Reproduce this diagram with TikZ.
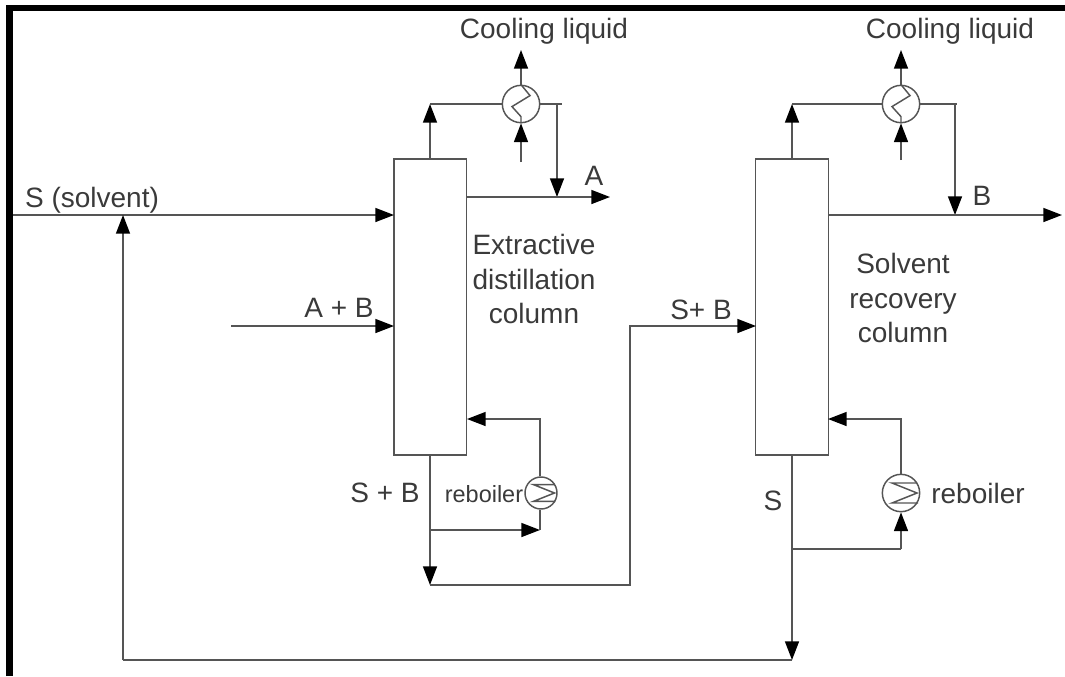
\documentclass[tikz,border=0pt]{standalone}
\usepackage{fontspec}
\setmainfont{Liberation Sans}
\usepackage{xcolor}
\usetikzlibrary{arrows.meta,positioning}
\definecolor{pipeGrey}{HTML}{555555}
\definecolor{labelGrey}{HTML}{3A3A3A}
\tikzset{
  column/.style={rectangle, draw=pipeGrey, line width=1.1pt, fill=white, minimum width=54.6pt, minimum height=222pt, inner sep=0pt},
  condenser/.style={circle, draw=pipeGrey, line width=1.1pt, fill=white, minimum size=28pt, inner sep=0pt},
  smallreboiler/.style={circle, draw=pipeGrey, line width=1.1pt, fill=white, minimum size=24pt, inner sep=0pt},
  tag/.style={text=labelGrey, align=center, inner sep=0pt, font=\fontsize{21}{26}\selectfont},
  smalltag/.style={text=labelGrey, inner sep=0pt, font=\fontsize{17.6}{21}\selectfont},
  pipe/.style={draw=pipeGrey, line width=1.1pt},
  flow/.style={pipe, -{Triangle[length=14pt,width=10.5pt,color=black]}}
}
\begin{document}
\begin{tikzpicture}[x=0.75pt,y=-0.75pt]
  \useasboundingbox (0,0) rectangle (1065,676);
  \draw[line width=5pt] (9.5,676) -- (9.5,8) -- (1065,8);

  % columns and exchangers
  \node[column] (colA) at (430.3,307) {};
  \node[column] (colB) at (792,307) {};
  \node[condenser] (condA) at (521,104) {};
  \node[condenser] (condB) at (901,104) {};
  \node[smallreboiler] (reboilA) at (541,493) {};
  \node[condenser] (reboilB) at (901,493) {};

  % labels
  \node[tag] (coolTextA) at (544,31) {Cooling liquid};
  \node[tag] (coolTextB) at (950,31) {Cooling liquid};
  \node[tag] (solventText) at (92,200) {S (solvent)};
  \node[tag] (aText) at (594,176) {A};
  \node[tag] (bText) at (982,196) {B};
  \node[tag] (colTextA) at (534,279) {Extractive\\distillation\\column};
  \node[tag] (colTextB) at (903,298) {Solvent\\recovery\\column};
  \node[tag] (feedText) at (339,308) {A + B};
  \node[tag] (sbTextB) at (701,310) {S+ B};
  \node[tag] (sbTextA) at (385,493) {S + B};
  \node[smalltag] (reboilTextA) at (484,494) {reboiler};
  \node[tag] (sText) at (773,501) {S};
  \node[tag] (reboilTextB) at (978,493) {reboiler};

  % free ends and junctions
  \coordinate (solventIn) at (13,215);
  \coordinate (solventA) at (394,215);
  \coordinate (recycleJoin) at (123,215);
  \coordinate (recycleLow) at (123,660);
  \coordinate (bottomEnd) at (792,660);
  \coordinate (feedIn) at (231,326);
  \coordinate (feedA) at (394,326);
  \coordinate (vapourA) at (430,104);
  \coordinate (vapourB) at (792,104);
  \coordinate (stubA) at (562,104);
  \coordinate (stubB) at (957,104);
  \coordinate (dropA) at (557,104);
  \coordinate (dropB) at (955,104);
  \coordinate (jointA) at (557,197);
  \coordinate (jointB) at (955,215);
  \coordinate (drawA) at (467,197);
  \coordinate (drawB) at (828,215);
  \coordinate (productA) at (610,197);
  \coordinate (productB) at (1062,215);
  \coordinate (coolOutA) at (521,50);
  \coordinate (coolOutB) at (901,50);
  \coordinate (coolInA) at (521,162);
  \coordinate (coolInB) at (901,160);
  \coordinate (bottomA) at (430,456);
  \coordinate (bottomB) at (792,456);
  \coordinate (branchA) at (430,530);
  \coordinate (branchB) at (792,549);
  \coordinate (turnA) at (540,530);
  \coordinate (turnB) at (901,549);
  \coordinate (lowA) at (430,585);
  \coordinate (riseA) at (630,585);
  \coordinate (riseB) at (630,326);
  \coordinate (feedB) at (756,326);
  \coordinate (returnA) at (467,419);
  \coordinate (returnB) at (828,419);

  % first column
  \draw[pipe] (solventIn) -- (recycleJoin);
  \draw[flow] (recycleJoin) -- (solventA);
  \draw[flow] (feedIn) -- (feedA);
  \draw[flow] (colA.north -| vapourA) -- (vapourA);
  \draw[pipe] (vapourA) -- (condA.west);
  \draw[pipe] (condA.east) -- (stubA);
  \draw[flow] (dropA) -- (jointA);
  \draw[flow] (drawA) -- (productA);
  \draw[flow] (condA.north) -- (coolOutA);
  \draw[flow] (coolInA) -- (condA.south);
  \draw[flow] (bottomA) -- (lowA);
  \draw[flow] (branchA) -- (turnA);
  \draw[pipe] (turnA) -- (reboilA.south -| turnA);
  \draw[flow] (reboilA.north -| turnA) |- (returnA);

  % second column
  \draw[flow] (lowA) -- (riseA) -- (riseB) -- (feedB);
  \draw[flow] (colB.north) -- (vapourB);
  \draw[pipe] (vapourB) -- (condB.west);
  \draw[pipe] (condB.east) -- (stubB);
  \draw[flow] (dropB) -- (jointB);
  \draw[flow] (drawB) -- (productB);
  \draw[flow] (condB.north) -- (coolOutB);
  \draw[flow] (coolInB) -- (condB.south);
  \draw[flow] (bottomB) -- (bottomEnd);
  \draw[pipe] (branchB) -- (turnB);
  \draw[flow] (turnB) -- (reboilB.south);
  \draw[flow] (reboilB.north) |- (returnB);
  \draw[pipe] (bottomEnd) -- (recycleLow);
  \draw[flow] (recycleLow) -- (recycleJoin);

  % exchanger symbols
  \foreach \c in {condA,condB}
    \draw[pipe] (\c.north) -- ++(9,11) -- ++(-18,11) -- ++(9,10) -- (\c.south);
  \foreach \c/\k in {reboilA/.84,reboilB/1}
    \draw[pipe,shift={(\c.center)},scale=\k] (16,-10) -- (-9,-10) -- (16,0) -- (-9,10) -- (17,10);
\end{tikzpicture}
\end{document}
